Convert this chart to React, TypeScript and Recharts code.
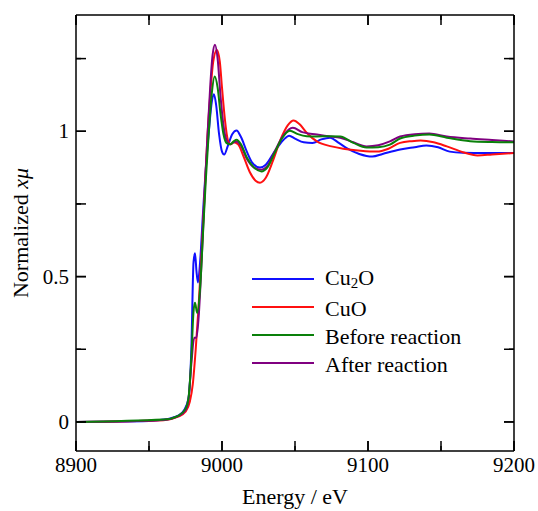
import { LineChart, Line, XAxis, YAxis, Legend, Label } from "recharts";

// energy (eV), normalized x-mu
const cu2oPts: [number, number][] = [
  [8900, 0], [8950, 0.003], [8960, 0.008], [8965, 0.013], [8970, 0.022],
  [8974, 0.04], [8977, 0.08], [8979, 0.25], [8980.5, 0.55], [8981.5, 0.58],
  [8982.5, 0.52], [8983.5, 0.48], [8985, 0.55], [8987, 0.72], [8989, 0.88],
  [8991, 1.0], [8993, 1.1], [8994.5, 1.127], [8996, 1.09], [8998, 0.99],
  [9000, 0.93], [9001.5, 0.92], [9004, 0.95], [9007, 0.99], [9010, 1.003],
  [9013, 0.98], [9017, 0.93], [9021, 0.89], [9026, 0.875], [9030, 0.885],
  [9036, 0.93], [9042, 0.97], [9046, 0.985], [9050, 0.975], [9056, 0.962],
  [9062, 0.96], [9068, 0.972], [9074, 0.978], [9080, 0.96], [9086, 0.94],
  [9094, 0.922], [9103, 0.913], [9110, 0.922], [9122, 0.937], [9132, 0.945],
  [9140, 0.951], [9148, 0.945], [9156, 0.93], [9165, 0.926], [9180, 0.925],
  [9200, 0.925],
];

const cuoPts: [number, number][] = [
  [8900, 0], [8960, 0.006], [8970, 0.018], [8975, 0.035], [8978, 0.07],
  [8980, 0.13], [8982, 0.25], [8984, 0.4], [8986, 0.58], [8988, 0.78],
  [8990, 0.98], [8992, 1.13], [8994, 1.24], [8996.5, 1.28], [8998.5, 1.24],
  [9000, 1.15], [9002, 1.04], [9004, 0.97], [9006, 0.955], [9008, 0.962],
  [9011, 0.955], [9015, 0.91], [9019, 0.86], [9023, 0.83], [9026, 0.823],
  [9030, 0.84], [9035, 0.9], [9040, 0.97], [9045, 1.02], [9049, 1.037],
  [9053, 1.025], [9058, 0.995], [9065, 0.965], [9075, 0.948], [9083, 0.94],
  [9095, 0.933], [9106, 0.93], [9114, 0.94], [9122, 0.96], [9130, 0.966],
  [9136, 0.968], [9145, 0.962], [9154, 0.948], [9165, 0.928], [9175, 0.917],
  [9185, 0.92], [9200, 0.925],
];

const beforePts: [number, number][] = [
  [8900, 0], [8960, 0.008], [8970, 0.021], [8975, 0.045], [8977, 0.08],
  [8979, 0.22], [8980.5, 0.38], [8981.5, 0.41], [8983, 0.375], [8985, 0.46],
  [8987, 0.65], [8989, 0.84], [8991, 1.0], [8993, 1.13], [8995, 1.188],
  [8997, 1.15], [8999, 1.06], [9001, 0.99], [9003, 0.96], [9005.5, 0.955],
  [9008, 0.965], [9010, 0.971], [9013, 0.955], [9017, 0.91], [9022, 0.875],
  [9027, 0.862], [9031, 0.875], [9036, 0.925], [9041, 0.975], [9046.5, 1.002],
  [9052, 0.99], [9058, 0.983], [9065, 0.982], [9073, 0.983], [9081, 0.982],
  [9090, 0.96], [9099, 0.944], [9107, 0.945], [9115, 0.954], [9122, 0.975],
  [9132, 0.985], [9142, 0.989], [9154, 0.978], [9170, 0.966], [9185, 0.963],
  [9200, 0.962],
];

const afterPts: [number, number][] = [
  [8900, 0], [8960, 0.007], [8970, 0.02], [8975, 0.04], [8977, 0.075],
  [8979, 0.2], [8981, 0.29], [8982.5, 0.29], [8984, 0.36], [8986, 0.55],
  [8988, 0.77], [8990, 0.98], [8992, 1.16], [8993.5, 1.26], [8995.2, 1.298],
  [8997, 1.25], [8999, 1.12], [9001, 1.02], [9003, 0.97], [9005.5, 0.955],
  [9008, 0.962], [9010, 0.965], [9013, 0.95], [9017, 0.905], [9022, 0.875],
  [9027, 0.868], [9031, 0.88], [9036, 0.93], [9042, 0.985], [9048.5, 1.012],
  [9055, 0.997], [9065, 0.989], [9073, 0.983], [9081, 0.978], [9090, 0.962],
  [9099, 0.948], [9107, 0.952], [9115, 0.965], [9122, 0.982], [9132, 0.99],
  [9142, 0.992], [9154, 0.982], [9170, 0.975], [9185, 0.97], [9200, 0.965],
];

const xTicks = [8900, 8950, 9000, 9050, 9100, 9150, 9200];
const yTicks = [0, 0.25, 0.5, 0.75, 1, 1.25];

const FONT = "'Liberation Serif', 'Times New Roman', serif";
const M = 20; // tickMargin
const T = 10; // tickSize (drawn inward, so passed negative)

const toRows = (pts: [number, number][]) => pts.map(([e, v]) => ({ e, v }));

const series = [
  { key: "cu2o", name: "Cu2O", color: "#1010ff", data: toRows(cu2oPts) },
  { key: "cuo", name: "CuO", color: "#ff1010", data: toRows(cuoPts) },
  { key: "before", name: "Before reaction", color: "#0a800a", data: toRows(beforePts) },
  { key: "after", name: "After reaction", color: "#800080", data: toRows(afterPts) },
];
// drawing order (green ends up on top)
const drawOrder = ["cu2o", "cuo", "after", "before"];

const isMajorX = (v: number) => v % 100 === 0;
const isMajorY = (v: number) => Math.abs(v * 2 - Math.round(v * 2)) < 1e-6;

const Tick = ({ x1, y1, x2, y2 }: any) => (
  <path d={`M${x1},${y1}L${x2},${y2}`} stroke="#000" strokeWidth={1.5} fill="none" />
);

const BottomTick = (p: any) => {
  const v = p.payload.value;
  const major = isMajorX(v);
  const ay = p.y - M + T;
  return (
    <g>
      <Tick x1={p.x} x2={p.x} y1={ay} y2={ay - (major ? 10 : 5)} />
      {major && (
        <text x={p.x} y={ay + 21} textAnchor="middle" fontSize={21} fontFamily={FONT} fill="#000">
          {v}
        </text>
      )}
    </g>
  );
};

const TopTick = (p: any) => {
  const major = isMajorX(p.payload.value);
  const ay = p.y + M - T;
  return <Tick x1={p.x} x2={p.x} y1={ay} y2={ay + (major ? 10 : 5)} />;
};

const LeftTick = (p: any) => {
  const v = p.payload.value;
  const major = isMajorY(v);
  const ax = p.x + M - T;
  return (
    <g>
      <Tick x1={ax} x2={ax + (major ? 10 : 5)} y1={p.y} y2={p.y} />
      {major && (
        <text x={ax - 7} y={p.y + 7} textAnchor="end" fontSize={21} fontFamily={FONT} fill="#000">
          {v}
        </text>
      )}
    </g>
  );
};

const RightTick = (p: any) => {
  const major = isMajorY(p.payload.value);
  const ax = p.x - M + T;
  return <Tick x1={ax} x2={ax - (major ? 10 : 5)} y1={p.y} y2={p.y} />;
};

const LegendBox = () => (
  <div style={{ fontFamily: FONT, fontSize: 22, color: "#000" }}>
    {series.map((s) => (
      <div key={s.key} style={{ display: "flex", alignItems: "center", height: 28 }}>
        <svg width={62} height={4} style={{ display: "block" }}>
          <line x1={0} x2={62} y1={2} y2={2} stroke={s.color} strokeWidth={2} />
        </svg>
        <span style={{ marginLeft: 11, paddingTop: 3, lineHeight: "24px" }}>
          {s.key === "cu2o" ? (
            <>
              Cu<sub style={{ fontSize: 15, verticalAlign: "-3px" }}>2</sub>O
            </>
          ) : (
            s.name
          )}
        </span>
      </div>
    ))}
  </div>
);

const axisLine = { stroke: "#000", strokeWidth: 1.5 };
const tickLine = { stroke: "#000", strokeWidth: 1.5 };

export default function App() {
  return (
    <div style={{ position: "absolute", left: 0, top: 0 }}>
      <LineChart width={538} height={511} margin={{ top: 14, right: 23, bottom: 0, left: 0 }}>
        <XAxis
          dataKey="e"
          type="number"
          domain={[8900, 9200]}
          ticks={xTicks}
          interval={0}
          allowDataOverflow
          height={60}
          tickLine={tickLine}
          tickSize={-T}
          tickMargin={M}
          tick={<BottomTick />}
          axisLine={axisLine}
        >
          <Label
            content={(props: any) => (
              <text
                x={props.viewBox.x + props.viewBox.width / 2}
                y={504}
                textAnchor="middle"
                fontSize={22}
                fontFamily={FONT}
                fill="#000"
              >
                Energy / eV
              </text>
            )}
          />
        </XAxis>
        <XAxis
          xAxisId="top"
          orientation="top"
          dataKey="e"
          type="number"
          domain={[8900, 9200]}
          ticks={xTicks}
          interval={0}
          allowDataOverflow
          height={1}
          tickLine={tickLine}
          tickSize={-T}
          tickMargin={M}
          tick={<TopTick />}
          axisLine={axisLine}
        />
        <YAxis
          type="number"
          domain={[-0.1, 1.4]}
          ticks={yTicks}
          interval={0}
          allowDataOverflow
          width={76}
          tickLine={tickLine}
          tickSize={-T}
          tickMargin={M}
          tick={<LeftTick />}
          axisLine={axisLine}
        >
          <Label
            content={(props: any) => (
              <text
                transform={`translate(28, ${props.viewBox.y + props.viewBox.height / 2}) rotate(-90)`}
                textAnchor="middle"
                fontSize={22}
                fontFamily={FONT}
                fill="#000"
              >
                Normalized <tspan fontStyle="italic">xμ</tspan>
              </text>
            )}
          />
        </YAxis>
        <YAxis
          yAxisId="right"
          orientation="right"
          type="number"
          domain={[-0.1, 1.4]}
          ticks={yTicks}
          interval={0}
          allowDataOverflow
          width={1}
          tickLine={tickLine}
          tickSize={-T}
          tickMargin={M}
          tick={<RightTick />}
          axisLine={axisLine}
        />
        {drawOrder.map((k) => {
          const s = series.find((x) => x.key === k)!;
          return (
            <Line
              key={s.key}
              data={s.data}
              dataKey="v"
              name={s.name}
              type="monotone"
              stroke={s.color}
              strokeWidth={2}
              dot={false}
              activeDot={false}
              isAnimationActive={false}
            />
          );
        })}
        <Legend
          layout="vertical"
          align="center"
          verticalAlign="middle"
          content={<LegendBox />}
          wrapperStyle={{ left: 252, top: 265, width: "auto" }}
        />
      </LineChart>
    </div>
  );
}
